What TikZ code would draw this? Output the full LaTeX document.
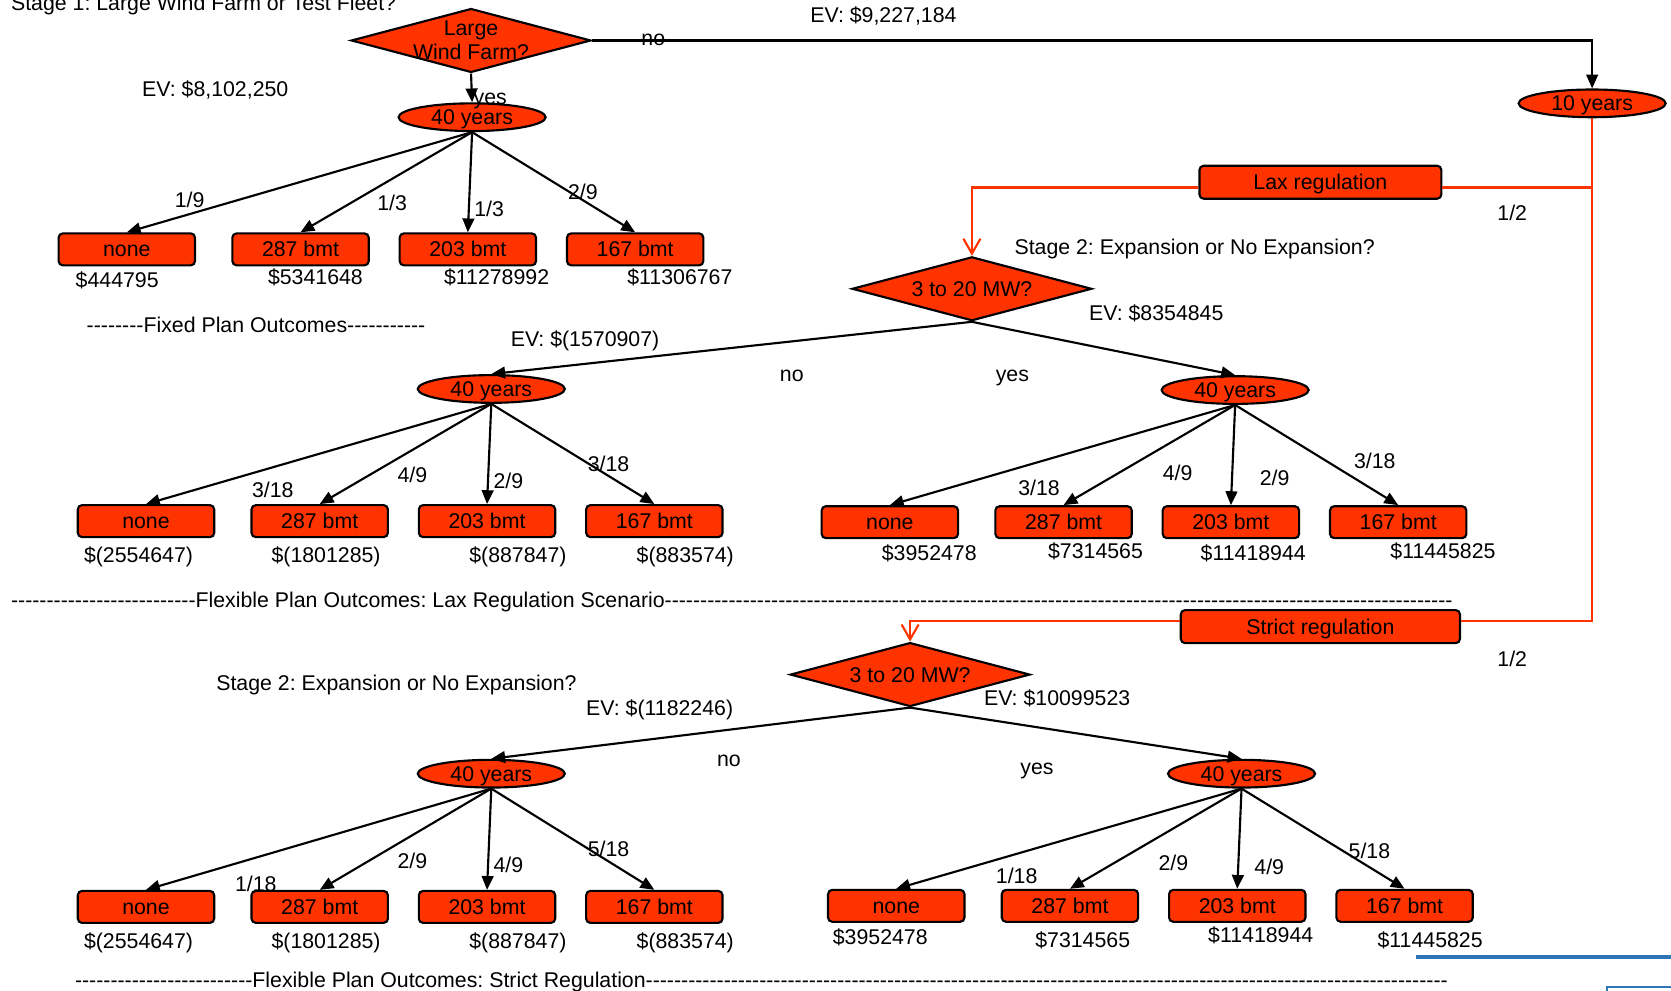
\documentclass[tikz,border=0pt]{standalone}
\usepackage{fontspec}
\newfontfamily\arial{Liberation Sans}[Ligatures=TeXOff]
\usetikzlibrary{shapes.geometric,arrows.meta}
\definecolor{treeorange}{RGB}{255,51,0}
\definecolor{regred}{RGB}{255,51,0}
\definecolor{pageblue}{RGB}{46,117,182}
\newcommand\dashrun[1]{\foreach \k in {1,...,#1}{-}}
\frenchspacing

\begin{document}
\begin{tikzpicture}[x=0.5pt,y=-0.5pt,
  every node/.style={font=\arial\fontsize{10}{11.5}\selectfont,inner sep=0pt,text height=8pt,text depth=1pt},
  decision/.style={diamond,shape aspect=3.8,draw,line width=1pt,fill=treeorange,minimum width=112.5pt,minimum height=30pt},
  chance/.style={ellipse,draw,line width=1pt,fill=treeorange,minimum width=69pt,minimum height=13pt},
  leaf/.style={rectangle,rounded corners=2pt,draw,line width=1pt,fill=treeorange,minimum width=64pt,minimum height=15pt},
  branch/.style={-{Triangle[length=6.5pt,width=5.5pt]},line width=1pt},
  regline/.style={draw=regred,line width=1pt},
  regarrow/.style={-{Straight Barb[length=7pt,width=8pt]}}]
 \useasboundingbox (0,0) rectangle (1568,929);
 \def\rowfix{234}
 \def\rowlax{489}
 \def\rowstr{851}

% stage 1: large wind farm or test fleet
 \node[anchor=base west] (stg1) at (10,10) {Stage 1: Large Wind Farm or Test Fleet?};
 \node[decision,label={[align=center,name=stg1q,text height=,text depth=]center:Large\\Wind Farm?}] (farm) at (442,38) {};
 \node[chance] (fix) at (443,110) {40 years};
 \node[chance] (ten) at (1494,97) {10 years};
 \draw[branch] (farm.south) -- (fix.north);
 \draw[branch] (farm.east) -| (ten.north);
 \node (ev0) at (829,14) {EV: \$9,227,184};
 \node (ev1) at (202,84) {EV: \$8,102,250};
 \node (lno) at (613,36) {no};
 \node (lyes) at (460,91) {yes};

% fixed plan outcomes
 \foreach \x/\lab [count=\i] in {119/none,282/287 bmt,439/203 bmt,596/167 bmt}{
  \node[leaf] (fix\i) at (\x,\rowfix) {\lab};
  \draw[branch] (fix.south) -- (fix\i.north);
 }
 \foreach \x/\y/\n/\d [count=\i] in {178/188/1/9,368/191/1/3,459/196/1/3,547/180/2/9}
  \node (fixp\i) at (\x,\y) {\n/\d};
 \foreach \x/\y/\val [count=\i] in {110/263/\$444795,296/260/\$5341648,466/260/\$11278992,638/260/\$11306767}
  \node (fixv\i) at (\x,\y) {\val};
 \node[anchor=west] (divfix) at (81,305) {\dashrun{8}Fixed Plan Outcomes\dashrun{11}};

% regulation branches from the 10 years node
 \coordinate (laxjoin) at (1494,176);
 \coordinate (strjoin) at (1494,583);
 \node[leaf,minimum width=113.5pt,minimum height=15.5pt] (lax) at (1239,171) {Lax regulation};
 \node[leaf,minimum width=131pt,minimum height=15.5pt] (strict) at (1239,588) {Strict regulation};
 \node[decision] (laxq) at (912,271) {3 to 20 MW?};
 \node[decision] (strq) at (854,633) {3 to 20 MW?};
 \draw[regline] (ten.south) -- (strjoin) -- (strjoin -| strict.east);
 \draw[regline] (laxjoin) -- (laxjoin -| lax.east);
 \draw[regline,regarrow] (laxjoin -| lax.west) -| (laxq.north);
 \draw[regline,regarrow] (strjoin -| strict.west) -| (strq.north);
 \node (laxhalf) at (1419,200) {1/2};
 \node (strhalf) at (1419,618) {1/2};

% stage 2 under lax regulation
 \node (stg2a) at (1121,232) {Stage 2: Expansion or No Expansion?};
 \node (ev2) at (1085,294) {EV: \$8354845};
 \node (ev3) at (549,318) {EV: \$(1570907)};
 \node[chance] (laxno) at (461,365) {40 years};
 \node[chance] (laxyes) at (1159,366) {40 years};
 \draw[branch] (laxq.south) -- (laxno.north);
 \draw[branch] (laxq.south) -- (laxyes.north);
 \node (laxlno) at (743,351) {no};
 \node (laxlyes) at (950,351) {yes};
 \foreach \x/\lab [count=\i] in {137/none,300/287 bmt,457/203 bmt,614/167 bmt}{
  \node[leaf] (laxno\i) at (\x,\rowlax) {\lab};
  \draw[branch] (laxno.south) -- (laxno\i.north);
 }
 \foreach \x/\lab [count=\i] in {835/none,998/287 bmt,1155/203 bmt,1312/167 bmt}{
  \node[leaf] (laxyes\i) at (\x,\rowlax+1) {\lab};
  \draw[branch] (laxyes.south) -- (laxyes\i.north);
 }
 \foreach \x/\y/\n/\d [count=\i] in {256/460/3/18,387/446/4/9,477/451/2/9,571/435/3/18}
  \node (laxnop\i) at (\x,\y) {\n/\d};
 \foreach \x/\y/\n/\d [count=\i] in {975/458/3/18,1105/444/4/9,1196/449/2/9,1290/433/3/18}
  \node (laxyesp\i) at (\x,\y) {\n/\d};
 \foreach \x/\val [count=\i] in {130/\$(2554647),306/\$(1801285),486/\$(887847),643/\$(883574)}
  \node (laxnov\i) at (\x,521) {\val};
 \foreach \x/\y/\val [count=\i] in {872/519/\$3952478,1028/517/\$7314565,1176/519/\$11418944,1354/517/\$11445825}
  \node (laxyesv\i) at (\x,\y) {\val};
 \node[anchor=west] (divlax) at (10,563) {\dashrun{26}Flexible Plan Outcomes: Lax Regulation Scenario\dashrun{111}};

% stage 2 under strict regulation
 \node (stg2b) at (372,641) {Stage 2: Expansion or No Expansion?};
 \node (ev4) at (619,664) {EV: \$(1182246)};
 \node (ev5) at (992,655) {EV: \$10099523};
 \node[chance] (strno) at (461,726) {40 years};
 \node[chance] (stryes) at (1165,726) {40 years};
 \draw[branch] (strq.south) -- (strno.north);
 \draw[branch] (strq.south) -- (stryes.north);
 \node (strlno) at (684,712) {no};
 \node (strlyes) at (973,720) {yes};
 \foreach \x/\lab [count=\i] in {137/none,300/287 bmt,457/203 bmt,614/167 bmt}{
  \node[leaf] (strno\i) at (\x,\rowstr) {\lab};
  \draw[branch] (strno.south) -- (strno\i.north);
 }
 \foreach \x/\lab [count=\i] in {841/none,1004/287 bmt,1161/203 bmt,1318/167 bmt}{
  \node[leaf] (stryes\i) at (\x,\rowstr-1) {\lab};
  \draw[branch] (stryes.south) -- (stryes\i.north);
 }
 \foreach \x/\y/\n/\d [count=\i] in {240/830/1/18,387/808/2/9,477/812/4/9,571/797/5/18}
  \node (strnop\i) at (\x,\y) {\n/\d};
 \foreach \x/\y/\n/\d [count=\i] in {954/822/1/18,1101/810/2/9,1191/814/4/9,1285/799/5/18}
  \node (stryesp\i) at (\x,\y) {\n/\d};
 \foreach \x/\val [count=\i] in {130/\$(2554647),306/\$(1801285),486/\$(887847),643/\$(883574)}
  \node (strnov\i) at (\x,883) {\val};
 \foreach \x/\y/\val [count=\i] in {826/879/\$3952478,1016/882/\$7314565,1183/877/\$11418944,1342/882/\$11445825}
  \node (stryesv\i) at (\x,\y) {\val};
 \node[anchor=west] (divstr) at (70,920) {\dashrun{25}Flexible Plan Outcomes: Strict Regulation\dashrun{113}};

% blue marks at the page corner
 \draw[pageblue,line width=1.5pt] (1329,898) -- (1568,898);
 \draw[pageblue,line width=1pt] (1508,930) -- (1508,926) -- (1570,926);
\end{tikzpicture}
\end{document}
